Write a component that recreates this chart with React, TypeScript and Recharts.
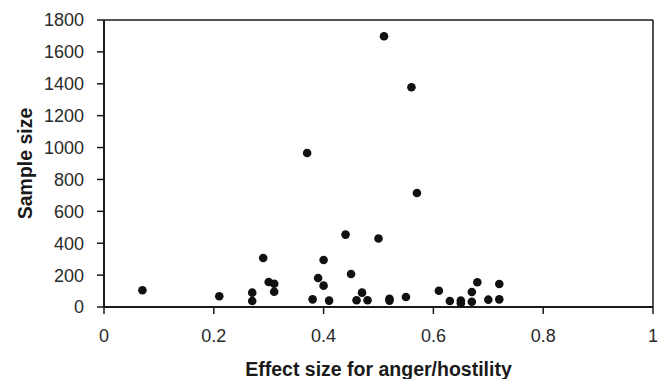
import React from 'react';
import { ScatterChart, Scatter, XAxis, YAxis, ReferenceLine, Label } from 'recharts';

const effectSize = [
  0.07, 0.21, 0.27, 0.27, 0.29, 0.30, 0.31, 0.31, 0.37, 0.38,
  0.39, 0.40, 0.40, 0.41, 0.44, 0.45, 0.46, 0.47, 0.48, 0.50,
  0.51, 0.52, 0.52, 0.55, 0.56, 0.57, 0.61, 0.63, 0.65, 0.65,
  0.67, 0.67, 0.68, 0.70, 0.72, 0.72,
];
const sampleSize = [
  105, 67, 90, 38, 307, 157, 146, 96, 966, 48,
  182, 295, 134, 40, 454, 207, 42, 90, 42, 430,
  1698, 40, 52, 63, 1378, 715, 102, 38, 40, 23,
  94, 33, 155, 46, 144, 48,
];
const xTicks = [0, 0.2, 0.4, 0.6, 0.8, 1];
const yTicks = [0, 200, 400, 600, 800, 1000, 1200, 1400, 1600, 1800];

const data = effectSize.map((x, i) => ({ x, y: sampleSize[i] }));

const FONT = '"Liberation Sans", Arial, sans-serif';
const AXIS = '#1a1a1a';

export default function App() {
  return (
    <div style={{ position: 'absolute', left: 0, top: 0, background: '#fff' }}>
      <ScatterChart width={665} height={379} margin={{ top: 20, right: 12, bottom: 0, left: 0 }}>
        <XAxis
          type="number"
          dataKey="x"
          domain={[0, 1]}
          ticks={xTicks}
          tickFormatter={(v: number) => String(v)}
          height={72}
          stroke={AXIS}
          strokeWidth={2}
          tickSize={7}
          tickMargin={15}
          tick={{ fill: '#2a2a2a', fontSize: 18, fontFamily: FONT }}
          tickLine={{ stroke: AXIS, strokeWidth: 1.5 }}
        >
          <Label
            content={({ viewBox }: any) => (
              <text
                x={viewBox.x + viewBox.width / 2}
                y={376}
                textAnchor="middle"
                fontFamily={FONT}
                fontWeight="bold"
                fontSize={19.5}
                fill="#1a1a1a"
              >
                Effect size for anger/hostility
              </text>
            )}
          />
        </XAxis>
        <YAxis
          type="number"
          dataKey="y"
          domain={[0, 1800]}
          ticks={yTicks}
          width={104}
          stroke={AXIS}
          strokeWidth={2}
          tickSize={7}
          tickMargin={13}
          tick={{ fill: '#2a2a2a', fontSize: 18, fontFamily: FONT }}
          tickLine={{ stroke: AXIS, strokeWidth: 1.5 }}
        >
          <Label
            content={({ viewBox }: any) => {
              const cx = 32;
              const cy = viewBox.y + viewBox.height / 2;
              return (
                <text
                  x={cx}
                  y={cy}
                  textAnchor="middle"
                  transform={`rotate(-90, ${cx}, ${cy})`}
                  fontFamily={FONT}
                  fontWeight="bold"
                  fontSize={19.5}
                  fill="#1a1a1a"
                >
                  Sample size
                </text>
              );
            }}
          />
        </YAxis>
        <ReferenceLine y={1800} stroke={AXIS} strokeWidth={1.5} />
        <ReferenceLine x={1} stroke={AXIS} strokeWidth={1.5} />
        <Scatter
          data={data}
          fill="#111"
          isAnimationActive={false}
          shape={(p: any) => <circle cx={p.cx} cy={p.cy} r={4.3} fill="#111" />}
        />
      </ScatterChart>
    </div>
  );
}
